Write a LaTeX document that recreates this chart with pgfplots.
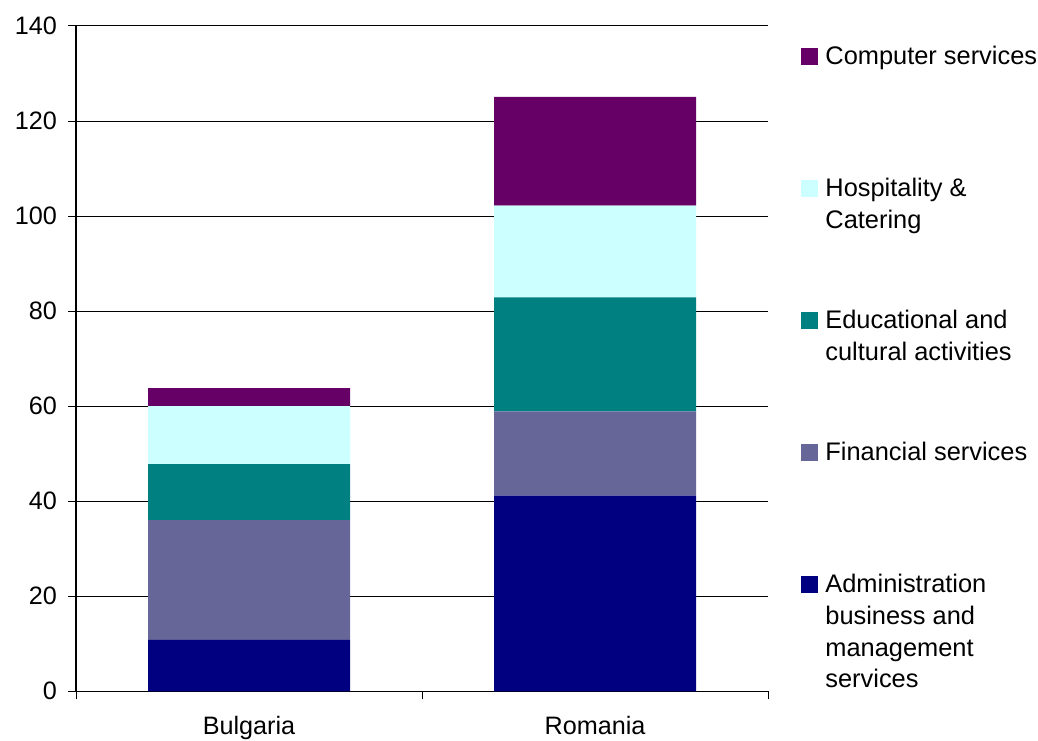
\documentclass[border=0pt]{standalone}
\usepackage{fontspec}
\setmainfont{Liberation Sans}
\usepackage{pgfplots}
\pgfplotsset{compat=1.18}
\definecolor{cadmin}{HTML}{000080}
\definecolor{cfin}{HTML}{666699}
\definecolor{cedu}{HTML}{008080}
\definecolor{chosp}{HTML}{CCFFFF}
\definecolor{ccomp}{HTML}{660066}
\newcommand{\ml}[1]{\vtop{\baselineskip=15.9pt\halign{##\hfil\cr #1\crcr}}}
\begin{document}
\begin{tikzpicture}
\begin{axis}[
  at={(0,0)}, anchor=south west,
  scale only axis, width=346pt, height=332.65pt,
  ybar stacked, bar width=101pt,
  xmin=-0.5, xmax=1.5, ymin=0, ymax=140,
  enlargelimits=false,
  xtick={-0.5,0.5,1.5}, xticklabels={},
  extra x ticks={0,1}, extra x tick labels={Bulgaria,Romania},
  extra x tick style={major tick length=0pt, grid=none},
  ytick={0,20,...,140},
  axis x line*=bottom, axis y line*=left,
  ymajorgrids, grid style={black, line width=0.5pt},
  tick align=outside, major tick length=4pt,
  tick style={black, line width=0.5pt},
  axis line style={black, line width=0.8pt},
  tick label style={font=\fontsize{12.6}{14}\selectfont},
  /pgf/number format/assume math mode=true,
  yticklabel style={xshift=-2pt},
  xticklabel style={yshift=-9pt},
]
\addplot[fill=cadmin, draw=none] coordinates {(0,10.8) (1,41.2)};
\addplot[fill=cfin, draw=none] coordinates {(0,25.2) (1,17.7)};
\addplot[fill=cedu, draw=none] coordinates {(0,11.8) (1,24.0)};
\addplot[fill=chosp, draw=none] coordinates {(0,12.2) (1,19.3)};
\addplot[fill=ccomp, draw=none] coordinates {(0,3.8) (1,22.9)};
\end{axis}
% legend
\foreach \c/\t [count=\i from 0] in {ccomp/{Computer services},
    chosp/{Hospitality \&\cr Catering},
    cedu/{Educational and\cr cultural activities},
    cfin/{Financial services},
    cadmin/{Administration\cr business and\cr management\cr services}} {
  \pgfmathsetmacro{\yb}{313.4-66*\i}
  \fill[\c] (362.5pt,\yb pt-0.3pt) rectangle (371pt,\yb pt+8.2pt);
  \node[anchor=base west, inner sep=0pt,
        font=\fontsize{12.7}{15.9}\selectfont] at (374.5pt,\yb pt) {\ml{\t}};
}
\pgfresetboundingbox
\path[use as bounding box] (-38pt,-24.35pt) rectangle (481pt,345.65pt);
\end{tikzpicture}
\end{document}
